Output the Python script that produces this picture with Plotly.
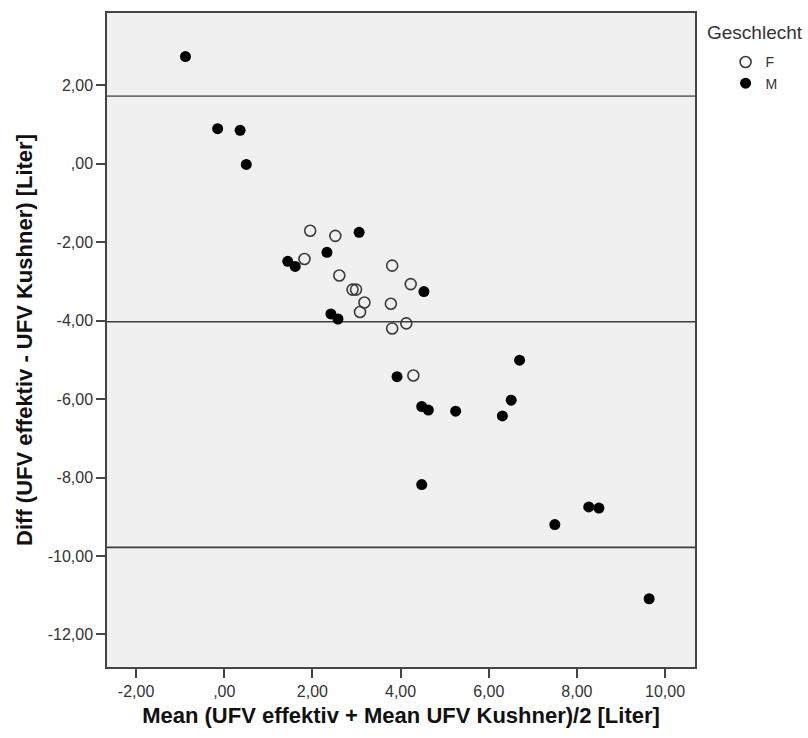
import plotly.graph_objects as go

# Bland-Altman data: mean of both methods (x) and their difference (y), split by sex
mean_f = [1.95, 2.52, 1.82, 3.81, 2.61, 4.23, 2.91, 2.99, 3.18, 3.78, 3.08, 4.13, 3.81, 4.29]
diff_f = [-1.71, -1.84, -2.43, -2.60, -2.85, -3.07, -3.21, -3.21, -3.54, -3.57, -3.78, -4.07, -4.20, -5.40]

mean_m = [-0.88, -0.15, 0.36, 0.50, 3.06, 2.33, 1.44, 1.61, 4.53, 2.42, 2.58,
          3.92, 6.70, 4.48, 4.63, 5.25, 6.51, 6.31, 4.48, 7.50, 8.27, 8.50, 9.64]
diff_m = [2.73, 0.89, 0.85, -0.02, -1.75, -2.26, -2.49, -2.62, -3.26, -3.83, -3.96,
          -5.43, -5.01, -6.19, -6.28, -6.31, -6.03, -6.43, -8.18, -9.20, -8.75, -8.78, -11.09]

# mean difference and limits of agreement
ref_lines = [1.72, -4.03, -9.78]

x_ticks = [-2, 0, 2, 4, 6, 8, 10]
x_tick_text = ["-2,00", ",00", "2,00", "4,00", "6,00", "8,00", "10,00"]
y_ticks = [2, 0, -2, -4, -6, -8, -10, -12]
y_tick_text = ["2,00", ",00", "-2,00", "-4,00", "-6,00", "-8,00", "-10,00", "-12,00"]

FONT = "Liberation Sans, Arial, sans-serif"

fig = go.Figure()

fig.add_trace(go.Scatter(
    x=mean_f, y=diff_f, mode="markers", name="F",
    marker=dict(symbol="circle-open", size=11, color="#3a3a3a", line=dict(width=1.6)),
))
fig.add_trace(go.Scatter(
    x=mean_m, y=diff_m, mode="markers", name="M",
    marker=dict(symbol="circle", size=11, color="#000000", line=dict(width=0)),
))

for i, v in enumerate(ref_lines):
    fig.add_shape(
        type="line", xref="paper", x0=0, x1=1, yref="y", y0=v, y1=v,
        line=dict(color="#707070" if i == 0 else "#3c3c3c", width=1.6),
        layer="below",
    )

# legend heading
fig.add_annotation(
    text="Geschlecht", xref="paper", yref="paper", x=1.0, y=1.0,
    xanchor="left", yanchor="top", xshift=10, yshift=-7, showarrow=False,
    font=dict(family=FONT, size=19, color="#333333"),
)

fig.update_layout(
    width=808, height=738,
    margin=dict(l=107, r=113, t=11, b=71),
    paper_bgcolor="white",
    plot_bgcolor="#F0F0F0",
    font=dict(family=FONT, size=16, color="#333333"),
    showlegend=True,
    legend=dict(
        x=1.052, y=0.949, xanchor="left", yanchor="top",
        font=dict(size=14, color="#333333"),
        itemwidth=30, tracegroupgap=0,
        bgcolor="rgba(0,0,0,0)",
    ),
)

fig.update_xaxes(
    range=[-2.66, 10.68], tickvals=x_ticks, ticktext=x_tick_text,
    showgrid=False, zeroline=False,
    showline=True, mirror=True, linecolor="#454545", linewidth=1.5,
    ticks="outside", ticklen=9, tickwidth=1.5, tickcolor="#454545",
    tickfont=dict(size=16, color="#333333"),
    title=dict(text="<b>Mean (UFV effektiv + Mean UFV Kushner)/2 [Liter]</b>",
               font=dict(size=22, color="#111111"), standoff=9),
)
fig.update_yaxes(
    range=[-12.83, 3.84], tickvals=y_ticks, ticktext=y_tick_text,
    showgrid=False, zeroline=False,
    showline=True, mirror=True, linecolor="#454545", linewidth=1.5,
    ticks="outside", ticklen=9, tickwidth=1.5, tickcolor="#454545",
    tickfont=dict(size=16, color="#333333"),
    title=dict(text="<b>Diff (UFV effektiv - UFV Kushner) [Liter]</b>",
               font=dict(size=22, color="#111111"), standoff=9),
)

fig.write_html("out.html")
